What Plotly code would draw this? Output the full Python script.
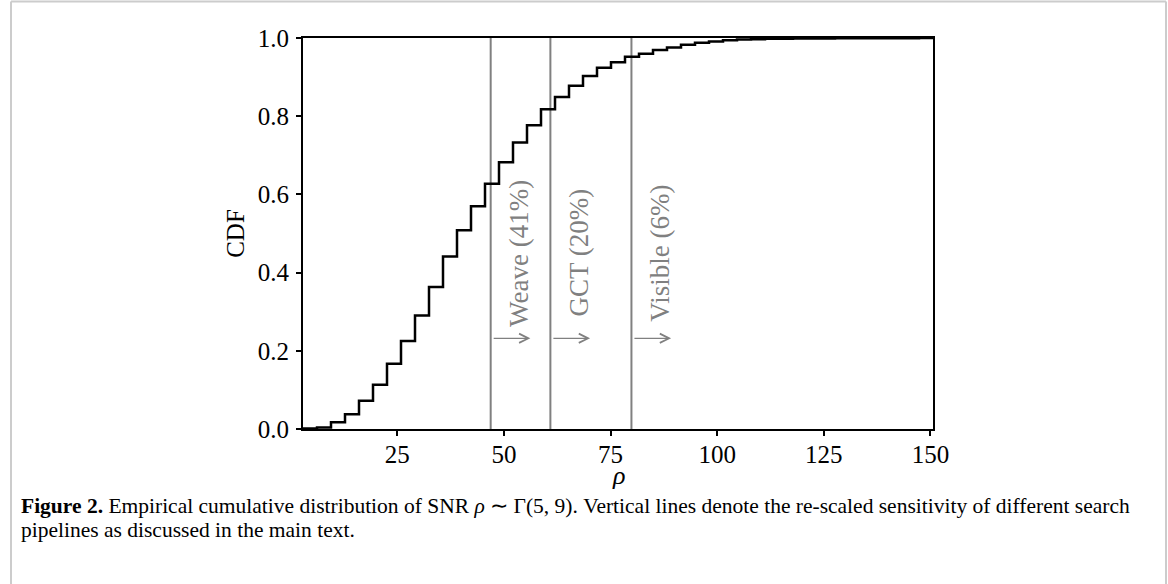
import numpy as np
import plotly.graph_objects as go

# Cumulative histogram of SNR samples (45 equal-width bins)
rho_min = 2.9
rho_max = 150.6
n_bins = 45
cdf_values = [0.001, 0.004, 0.017, 0.038, 0.072, 0.113, 0.167, 0.225, 0.290,
              0.363, 0.441, 0.508, 0.570, 0.627, 0.682, 0.733, 0.777, 0.818,
              0.849, 0.878, 0.903, 0.924, 0.938, 0.952, 0.960, 0.969, 0.976,
              0.983, 0.988, 0.991, 0.994, 0.996, 0.997, 0.998, 0.998, 0.999,
              0.999, 0.999, 0.9995, 0.9995, 0.9995, 0.9995, 0.9995, 0.9995, 1.0]

# Re-scaled pipeline sensitivities
pipeline_names = ["Weave", "GCT", "Visible"]
pipeline_rho = [46.9, 60.9, 79.9]
pipeline_frac = ["41%", "20%", "6%"]

x_ticks = [25, 50, 75, 100, 125, 150]
y_ticks = [0.0, 0.2, 0.4, 0.6, 0.8, 1.0]

W, H = 1168, 584
L, R, T, B = 303, 235, 38, 155
PW, PH = W - L - R, H - T - B


def px_x(px):
    return (px - L) / PW


def px_y(py):
    return 1 - (py - T) / PH


SERIF = "Liberation Serif, Times New Roman, serif"
GRAY = "#808080"

edges = np.linspace(rho_min, rho_max, n_bins + 1)
step_x = [edges[0]] + list(edges[:-1]) + [edges[-1]]
step_y = [0.0] + list(cdf_values) + [cdf_values[-1]]

fig = go.Figure()
fig.add_trace(go.Scatter(
    x=step_x, y=step_y, mode="lines",
    line=dict(color="black", width=2.5, shape="hv"),
    showlegend=False, hoverinfo="skip",
))

annotations = []
for name, rho, frac in zip(pipeline_names, pipeline_rho, pipeline_frac):
    fig.add_vline(x=rho, line=dict(color=GRAY, width=2), layer="below")
    annotations.append(dict(
        x=rho + 6.6, y=0.45, xref="x", yref="y",
        text=f"{name} ({frac})", textangle=-90, showarrow=False,
        xanchor="center", yanchor="middle",
        font=dict(family=SERIF, size=27, color=GRAY),
    ))
    annotations.append(dict(
        x=rho + 9.3, y=0.232, ax=rho + 0.35, ay=0.232,
        xref="x", yref="y", axref="x", ayref="y",
        text="", showarrow=True, arrowhead=5, arrowsize=1.4,
        arrowwidth=1.3, arrowcolor=GRAY, standoff=0,
    ))

# x-axis label, placed just under the tick labels
annotations.append(dict(
    x=0.5, y=px_y(475), xref="paper", yref="paper",
    xanchor="center", yanchor="middle", showarrow=False,
    text="<i>ρ</i>", font=dict(family=SERIF, size=26, color="black"),
))

# Caption below the axes
CAP_SIZE = 21.5
annotations.append(dict(
    x=px_x(19), y=px_y(506), xref="paper", yref="paper",
    xanchor="left", yanchor="middle", showarrow=False,
    text=("<b>Figure 2.</b> Empirical cumulative distribution of SNR "
          "<i>ρ</i> ∼ Γ(5, 9). Vertical lines denote the re-scaled sensitivity "
          "of different search"),
    font=dict(family=SERIF, size=CAP_SIZE, color="black"),
))
annotations.append(dict(
    x=px_x(19), y=px_y(530), xref="paper", yref="paper",
    xanchor="left", yanchor="middle", showarrow=False,
    text="pipelines as discussed in the main text.",
    font=dict(family=SERIF, size=CAP_SIZE, color="black"),
))

# Light page frame
frame_color = "#cccccc"
shapes = [
    dict(type="line", xref="paper", yref="paper", x0=px_x(11), x1=px_x(1166),
         y0=px_y(1.5), y1=px_y(1.5), line=dict(color=frame_color, width=2)),
    dict(type="line", xref="paper", yref="paper", x0=px_x(11), x1=px_x(11),
         y0=px_y(1.5), y1=px_y(600), line=dict(color=frame_color, width=2)),
    dict(type="line", xref="paper", yref="paper", x0=px_x(1166), x1=px_x(1166),
         y0=px_y(1.5), y1=px_y(600), line=dict(color=frame_color, width=2)),
]

axis_common = dict(
    showline=True, linecolor="black", linewidth=2, mirror=True,
    showgrid=False, zeroline=False,
    ticks="outside", ticklen=5, tickwidth=1.5, tickcolor="black",
    tickfont=dict(family=SERIF, size=25, color="black"),
)

fig.update_layout(
    width=W, height=H,
    margin=dict(l=L, r=R, t=T, b=B, pad=0),
    paper_bgcolor="white", plot_bgcolor="white",
    xaxis=dict(range=[rho_min, rho_max], tickvals=x_ticks,
               ticklabelstandoff=-3, **axis_common),
    yaxis=dict(range=[0, 1], tickvals=y_ticks, tickformat=".1f",
               ticklabelstandoff=2,
               title=dict(text="CDF", standoff=6,
                          font=dict(family=SERIF, size=25, color="black")),
               **axis_common),
    annotations=annotations,
    shapes=list(fig.layout.shapes) + shapes,
)

fig.write_html("out.html")
